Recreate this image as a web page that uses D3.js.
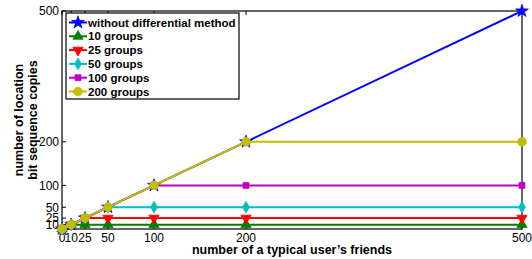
<!DOCTYPE html>
<html>
<head>
<meta charset="utf-8">
<script src="https://cdn.jsdelivr.net/npm/d3@7"></script>
<style>
body { margin: 0; background: #fff; }
text { font-family: "Liberation Sans", Arial, Helvetica, sans-serif; }
</style>
</head>
<body>
<script>
// number of friends (x) and copies for each method
var friends = [0, 10, 25, 50, 100, 200, 500];
var withoutDiff = [0, 10, 25, 50, 100, 200, 500];
var groups10 = [0, 10, 10, 10, 10, 10, 10];
var groups25 = [0, 10, 25, 25, 25, 25, 25];
var groups50 = [0, 10, 25, 50, 50, 50, 50];
var groups100 = [0, 10, 25, 50, 100, 100, 100];
var groups200 = [0, 10, 25, 50, 100, 200, 200];
var xTicks = [0, 10, 25, 50, 100, 200, 500];
var yTicks = [10, 25, 50, 100, 200, 500];

var series = [
	{name: "without differential method", values: withoutDiff, color: "#0000ff", shape: "star"},
	{name: "10 groups", values: groups10, color: "#008000", shape: "up"},
	{name: "25 groups", values: groups25, color: "#ff0000", shape: "down"},
	{name: "50 groups", values: groups50, color: "#00bfbf", shape: "diamond"},
	{name: "100 groups", values: groups100, color: "#bf00bf", shape: "square"},
	{name: "200 groups", values: groups200, color: "#bfbf00", shape: "circle"}
];

var W = 532, H = 259;
var pLeft = 62, pRight = 522, pTop = 11, pBottom = 229;

var x = d3.scaleLinear().domain([0, 500]).range([pLeft, pRight]);
var y = d3.scaleLinear().domain([0, 500]).range([pBottom, pTop]);

var svg = d3.select("body").append("svg")
		.attr("width", W)
		.attr("height", H);

// Jelölők alakjai.
function symbolFor(shape) {
	var m = {star: d3.symbolStar, up: d3.symbolTriangle, diamond: d3.symbolDiamond,
		square: d3.symbolSquare, circle: d3.symbolCircle, down: d3.symbolTriangle};
	var size = {star: 50, up: 45, down: 45, diamond: 40, square: 35, circle: 60};
	return d3.symbol().type(m[shape]).size(size[shape])();
}

// Tengelyek: bent lévő tickek, tükrözve.
var tickLen = 4;
var axisG = svg.append("g");
axisG.append("rect")
		.attr("x", pLeft).attr("y", pTop)
		.attr("width", pRight - pLeft).attr("height", pBottom - pTop)
		.attr("fill", "none").attr("stroke", "#000").attr("stroke-width", 1.2);

xTicks.forEach(function(t) {
	axisG.append("line").attr("x1", x(t)).attr("x2", x(t))
			.attr("y1", pBottom).attr("y2", pBottom - tickLen).attr("stroke", "#000");
	axisG.append("line").attr("x1", x(t)).attr("x2", x(t))
			.attr("y1", pTop).attr("y2", pTop + tickLen).attr("stroke", "#000");
	axisG.append("text").attr("x", x(t)).attr("y", 242)
			.attr("text-anchor", "middle").attr("font-size", 12).text(t);
});
yTicks.forEach(function(t) {
	axisG.append("line").attr("x1", pLeft).attr("x2", pLeft + tickLen)
			.attr("y1", y(t)).attr("y2", y(t)).attr("stroke", "#000");
	axisG.append("line").attr("x1", pRight).attr("x2", pRight - tickLen)
			.attr("y1", y(t)).attr("y2", y(t)).attr("stroke", "#000");
	axisG.append("text").attr("x", pLeft - 3).attr("y", y(t)).attr("dy", "0.36em")
			.attr("text-anchor", "end").attr("font-size", 12).text(t);
});

// Tengelyfeliratok.
svg.append("text")
		.attr("x", (pLeft + pRight) / 2).attr("y", 254)
		.attr("text-anchor", "middle").attr("font-size", 12.5).attr("font-weight", "bold")
		.text("number of a typical user\u2019s friends");
var yl = svg.append("text")
		.attr("transform", "translate(23," + ((pTop + pBottom) / 2) + ") rotate(-90)")
		.attr("text-anchor", "middle").attr("font-size", 12.5).attr("font-weight", "bold");
yl.append("tspan").attr("x", 0).attr("dy", 0).text("number of location");
yl.append("tspan").attr("x", 0).attr("dy", 14).text("bit sequence copies");

// Adatsorok.
var line = d3.line()
		.x(function(d) { return x(d[0]); })
		.y(function(d) { return y(d[1]); });

series.forEach(function(s) {
	var pts = friends.map(function(f, i) { return [f, s.values[i]]; });
	var g = svg.append("g");
	g.append("path").datum(pts)
			.attr("d", line)
			.attr("fill", "none").attr("stroke", s.color).attr("stroke-width", 2);
	g.selectAll("path.mark").data(pts).enter().append("path")
			.attr("class", "mark")
			.attr("d", symbolFor(s.shape))
			.attr("transform", function(d) {
				return "translate(" + x(d[0]) + "," + y(d[1]) + ")" + (s.shape === "down" ? " rotate(180)" : "");
			})
			.attr("fill", s.color).attr("stroke", s.color).attr("stroke-width", 0.8);
});

// Jelkulcs.
var leg = svg.append("g");
leg.append("rect")
		.attr("x", 66).attr("y", 13).attr("width", 173).attr("height", 86)
		.attr("fill", "#fff").attr("stroke", "#000").attr("stroke-width", 1.2);
series.forEach(function(s, i) {
	var ly = 22.5 + i * 13.8;
	leg.append("line").attr("x1", 69).attr("x2", 87).attr("y1", ly).attr("y2", ly)
			.attr("stroke", s.color).attr("stroke-width", 2);
	leg.append("path").attr("d", symbolFor(s.shape))
			.attr("transform", "translate(78," + ly + ")" + (s.shape === "down" ? " rotate(180)" : ""))
			.attr("fill", s.color).attr("stroke", s.color).attr("stroke-width", 0.8);
	leg.append("text").attr("x", 88).attr("y", ly).attr("dy", "0.36em")
			.attr("font-size", 11.5).attr("font-weight", "bold").text(s.name);
});
</script>
</body>
</html>
